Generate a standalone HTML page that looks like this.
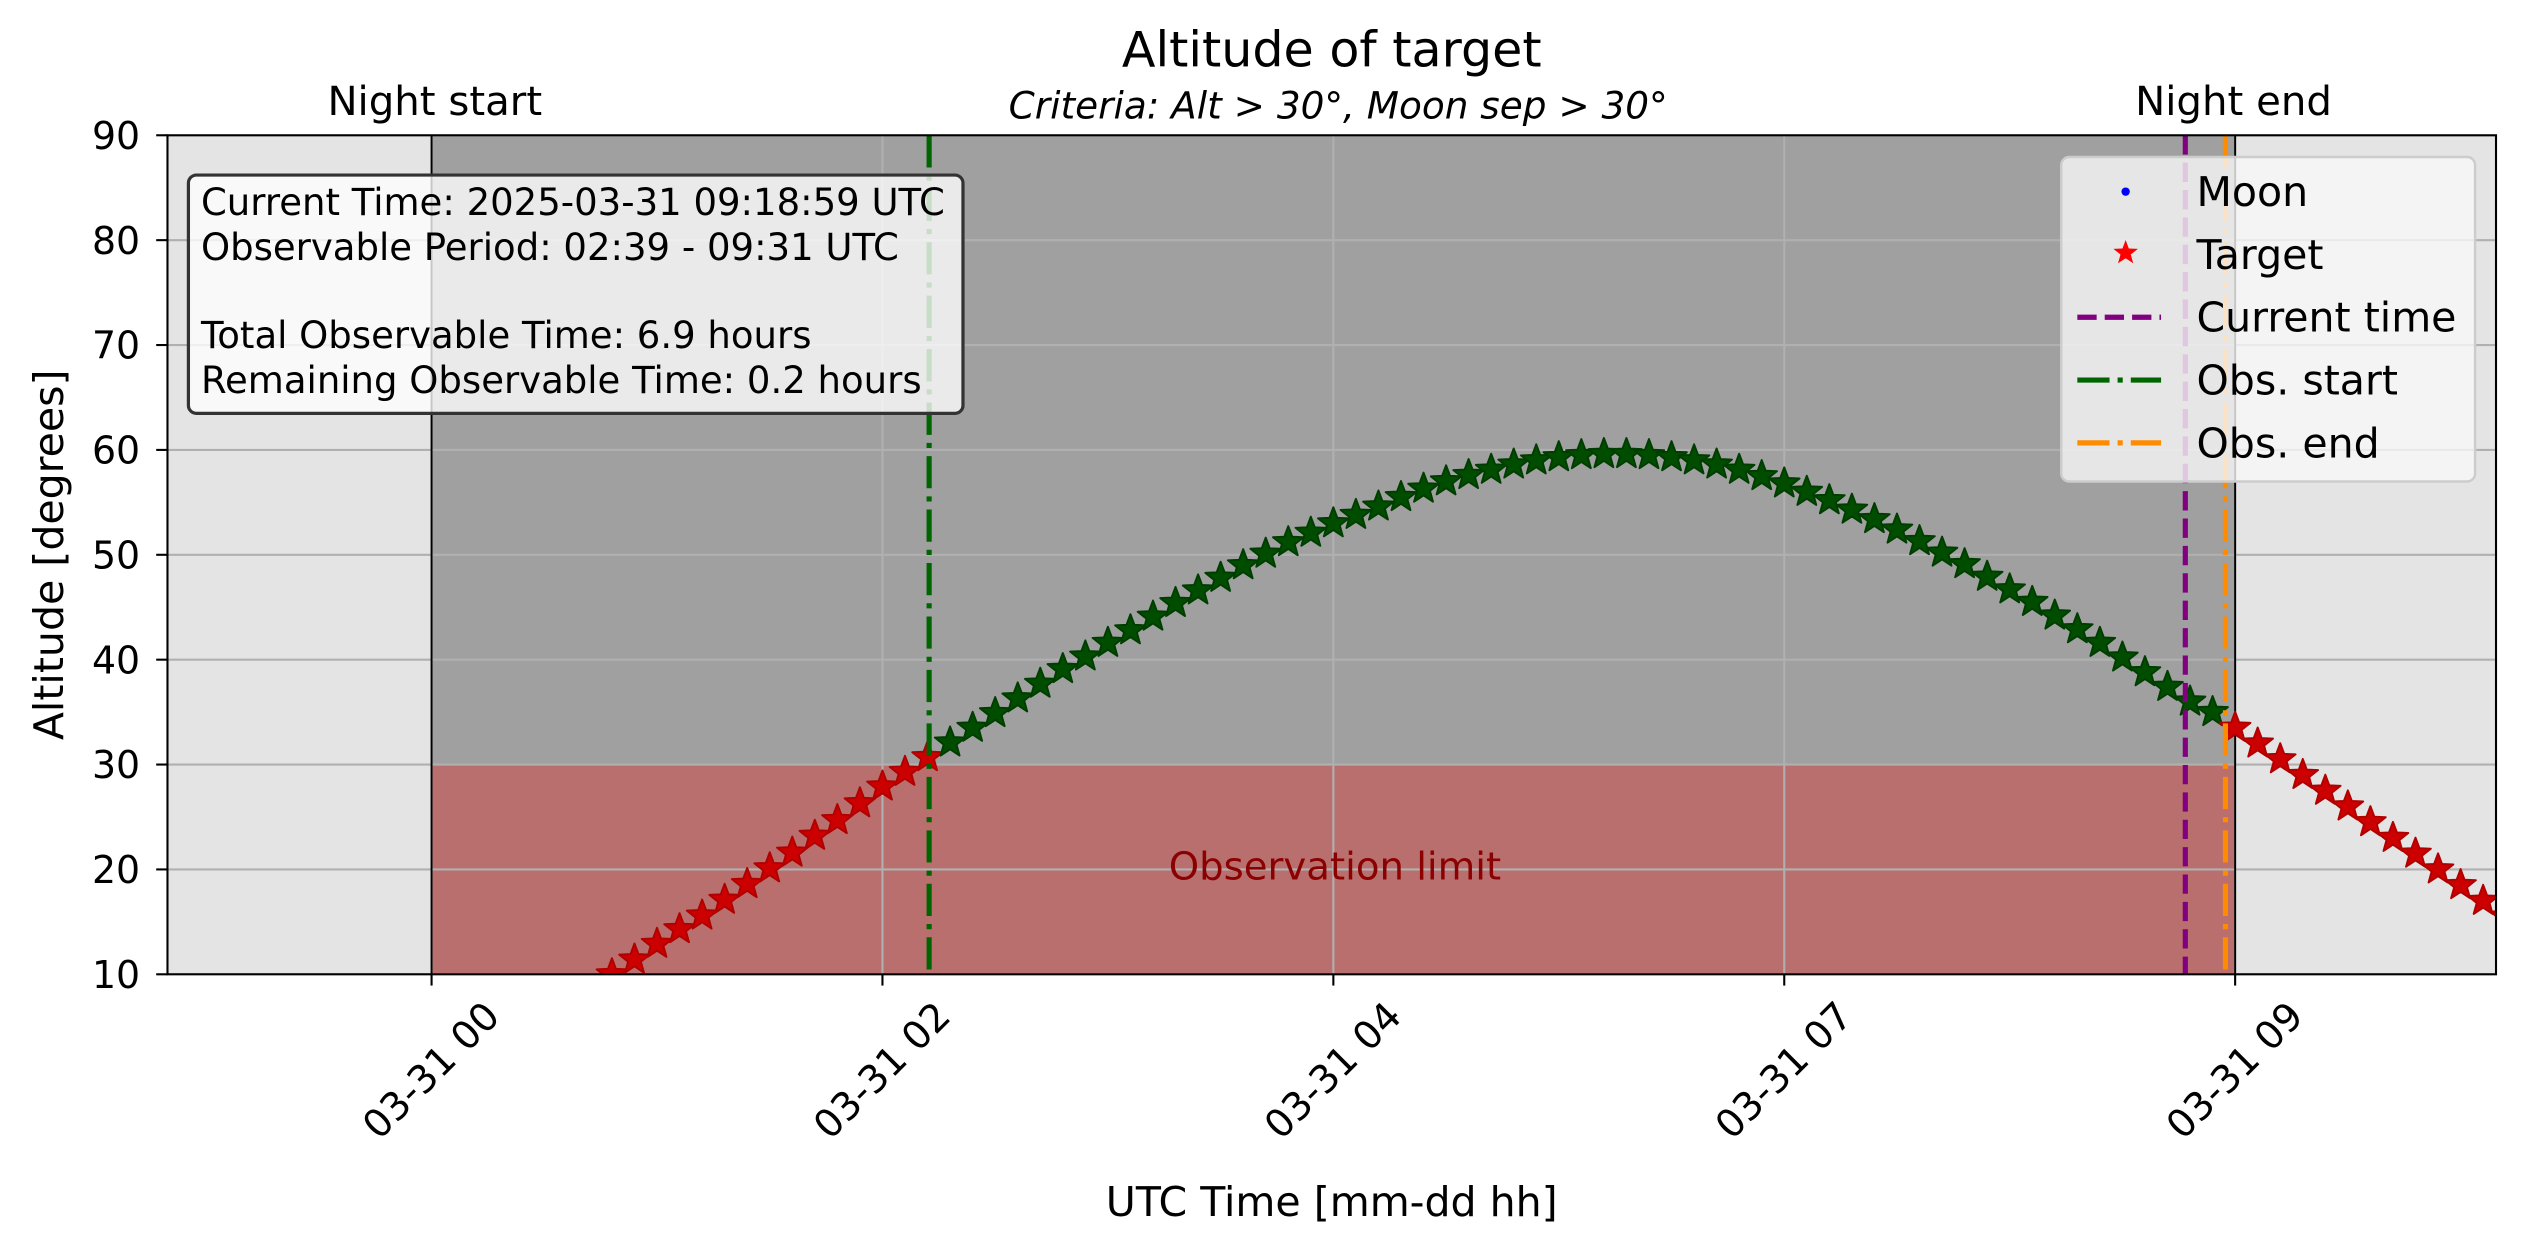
<!DOCTYPE html>
<html><head><meta charset="utf-8"><style>
html,body{margin:0;padding:0;background:#fff;}
svg{display:block;font-family:"DejaVu Sans","Liberation Sans",sans-serif;}
</style></head><body>
<svg id="chart" width="2525" height="1255" viewBox="0 0 1568 779.3" preserveAspectRatio="none" xmlns="http://www.w3.org/2000/svg">
<defs><clipPath id="plotclip"><rect x="104" y="84" width="1446" height="521"/></clipPath></defs>
<rect width="1568" height="780" fill="#fff"/>
<g id="plot" clip-path="url(#plotclip)"></g>
<g id="overlay"></g>
</svg>
<script>
const yTicks=[10,20,30,40,50,60,70,80,90];
const xTickTimes=[0,2,4,6,8];
const xTickLabels=["03-31 00","03-31 02","03-31 04","03-31 07","03-31 09"];
const nightStart=0, nightEnd=8.0;
const obsStart=2.207, obsEnd=7.957, currentTime=7.779;
const altLimit=30;
const targetStartTime=0.8, targetStep=0.1;
const targetAlt=[10.0,11.4,12.9,14.3,15.6,17.1,18.6,20.1,21.6,23.2,
24.7,26.3,27.9,29.3,30.7,32.1,33.5,34.9,36.3,37.7,
39.1,40.3,41.6,42.8,44.1,45.4,46.6,47.8,49.0,50.1,
51.2,52.1,53.0,53.8,54.6,55.5,56.3,57.0,57.6,58.1,
58.6,59.0,59.3,59.5,59.6,59.6,59.5,59.3,59.0,58.6,
58.1,57.5,56.8,56.0,55.2,54.3,53.4,52.4,51.3,50.2,
49.1,47.9,46.7,45.5,44.2,42.9,41.6,40.2,38.8,37.4,
36.0,35.0,33.5,32.0,30.5,29.0,27.5,26.0,24.5,23.0,
21.5,20.0,18.5,17.0,15.5];

const L=104,R=1550,T=84,B=605;
const xS=t=>268+140*t;
const yS=a=>B-(a-10)*(B-T)/80;
const NS="http://www.w3.org/2000/svg";
const plot=document.getElementById('plot');
const ov=document.getElementById('overlay');
function mk(tag,attrs,parent){const e=document.createElementNS(NS,tag);for(const k in attrs)e.setAttribute(k,attrs[k]);parent.appendChild(e);return e;}

let e;
e=mk('rect',{x:L,y:T,width:R-L,height:B-T,fill:'#e4e4e4'},plot);


e=mk('rect',{x:xS(nightStart),y:T,width:xS(nightEnd)-xS(nightStart),height:B-T,fill:'#a0a0a0'},plot);


e=mk('rect',{x:xS(nightStart),y:yS(altLimit),width:xS(nightEnd)-xS(nightStart),height:B-yS(altLimit),fill:'#ba6f6f'},plot);


e=mk('line',{x1:xS(nightStart),x2:xS(nightEnd),y1:yS(altLimit),y2:yS(altLimit),stroke:'#c97a7a','stroke-width':1},plot);



yTicks.forEach(v=>{const g=mk('line',{x1:L,x2:R,y1:yS(v),y2:yS(v),stroke:'#b0b0b0','stroke-width':1.3},plot);

});
xTickTimes.forEach(v=>{const g=mk('line',{x1:xS(v),x2:xS(v),y1:T,y2:B,stroke:'#b0b0b0','stroke-width':1.3},plot);

});

[nightStart,nightEnd].forEach(v=>{const g=mk('line',{x1:xS(v),x2:xS(v),y1:T,y2:B,stroke:'#000','stroke-width':1.2},plot);

});

e=mk('text',{x:829,y:546,'text-anchor':'middle','font-size':24,fill:'#8b0000'},plot);
e.textContent='Observation limit';



function starPts(cx,cy,r){let p=[];for(let i=0;i<10;i++){const rr=i%2?r*0.42:r;const a=-Math.PI/2+i*Math.PI/5;p.push((cx+rr*Math.cos(a)).toFixed(2)+','+(cy+rr*Math.sin(a)).toFixed(2));}return p.join(' ');}
targetAlt.forEach((a,i)=>{const t=targetStartTime+targetStep*i;
const good=(t>=obsStart&&t<=obsEnd&&a>=altLimit);
const s=mk('polygon',{points:starPts(xS(t),yS(a),10),fill:good?'#004d00':'#cc0000',stroke:good?'#003d00':'#b00000','stroke-width':1.2,'stroke-linejoin':'round'},plot);

});

e=mk('line',{x1:xS(obsStart),x2:xS(obsStart),y1:T,y2:B,stroke:'#006400','stroke-width':3.2,'stroke-dasharray':'20,5,3.2,5'},plot);


e=mk('line',{x1:xS(currentTime),x2:xS(currentTime),y1:T,y2:B,stroke:'#800080','stroke-width':3.2,'stroke-dasharray':'12,5'},plot);


e=mk('line',{x1:xS(obsEnd),x2:xS(obsEnd),y1:T,y2:B,stroke:'#ff8c00','stroke-width':3.2,'stroke-dasharray':'20,5,3.2,5'},plot);



e=mk('rect',{x:L,y:T,width:R-L,height:B-T,fill:'none',stroke:'#000','stroke-width':1.3},ov);



yTicks.forEach(v=>{const tk=mk('line',{x1:L-7,x2:L,y1:yS(v),y2:yS(v),stroke:'#000','stroke-width':1.3},ov);


const tx=mk('text',{x:87,y:yS(v)+8.5,'text-anchor':'end','font-size':23.5,fill:'#000'},ov);
tx.textContent=v;

});
xTickTimes.forEach((v,i)=>{const x=xS(v);const tk=mk('line',{x1:x,x2:x,y1:B,y2:B+7,stroke:'#000','stroke-width':1.3},ov);


const tx=mk('text',{x:x,y:665,'text-anchor':'middle','dominant-baseline':'central','font-size':24,fill:'#000',transform:`rotate(-45 ${x} 665)`},ov);
tx.textContent=xTickLabels[i];

});

function txt(x,y,s,size,extra){const t=mk('text',Object.assign({x:x,y:y,'text-anchor':'middle','font-size':size,fill:'#000'},extra||{}),ov);t.textContent=s;return t;}
e=txt(827,41.4,'Altitude of target',30.5);


e=txt(831,73.5,'Criteria: Alt > 30°, Moon sep > 30°',23.2,{'font-style':'italic'});


e=txt(270,71.4,'Night start',25);


e=txt(1387,71.4,'Night end',25);


e=txt(827,755,'UTC Time [mm-dd hh]',25.5);


e=txt(39,344.5,'Altitude [degrees]',25.5,{transform:'rotate(-90 39 344.5)'});



e=mk('rect',{x:117,y:108.7,width:481,height:148,rx:5,fill:'#fff','fill-opacity':0.78,stroke:'#333','stroke-width':2},ov);


const infoLines=[['Current Time: 2025-03-31 09:18:59 UTC',133.5],['Observable Period: 02:39 - 09:31 UTC',161.5],['Total Observable Time: 6.9 hours',216],['Remaining Observable Time: 0.2 hours',244]];
infoLines.forEach(l=>{const t=mk('text',{x:124.8,y:l[1],'font-size':23,fill:'#000'},ov);t.textContent=l[0];

});

e=mk('rect',{x:1280,y:97.5,width:257,height:201.5,rx:5,fill:'#f7f7f7','fill-opacity':0.8,stroke:'#cccccc','stroke-width':1.5},ov);


const legY=[128,167,206,245,284];
e=mk('circle',{cx:1320,cy:legY[0]-9,r:2.6,fill:'#0000ff'},ov);


e=mk('polygon',{points:starPts(1320,legY[1]-10,8),fill:'#ff0000'},ov);


e=mk('line',{x1:1290,x2:1342,y1:legY[2]-9,y2:legY[2]-9,stroke:'#800080','stroke-width':3.2,'stroke-dasharray':'12,5'},ov);


e=mk('line',{x1:1290,x2:1342,y1:legY[3]-9,y2:legY[3]-9,stroke:'#006400','stroke-width':3.2,'stroke-dasharray':'20,5,3.2,5'},ov);


e=mk('line',{x1:1290,x2:1342,y1:legY[4]-9,y2:legY[4]-9,stroke:'#ff8c00','stroke-width':3.2,'stroke-dasharray':'20,5,3.2,5'},ov);


const legLabels=['Moon','Target','Current time','Obs. start','Obs. end'];
legLabels.forEach((s,i)=>{const t=mk('text',{x:1364,y:legY[i],'font-size':25.5,fill:'#000'},ov);t.textContent=s;

});
</script>
</body></html>
